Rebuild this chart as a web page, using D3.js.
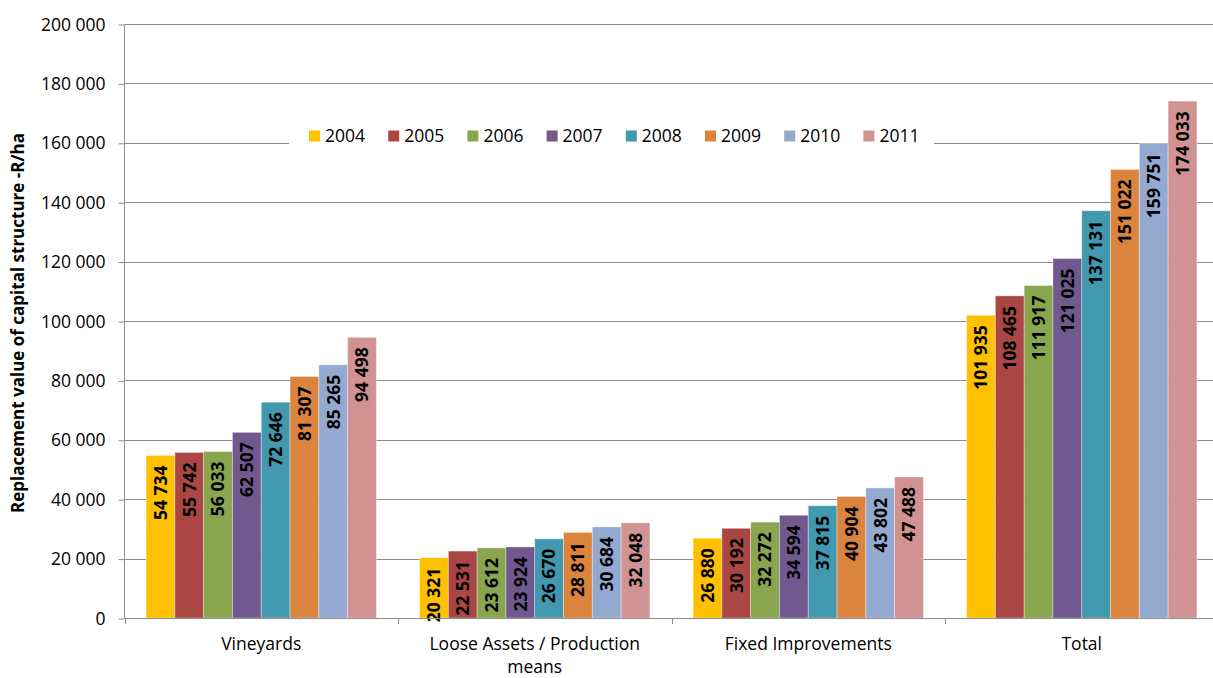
<!DOCTYPE html>
<html>
<head>
<meta charset="utf-8">
<script src="https://cdn.jsdelivr.net/npm/d3@7"></script>
<style>
  body { margin: 0; background: #fff; }
  text { font-family: "Open Sans", Lato, sans-serif; fill: #000; }
</style>
</head>
<body>
<div id="chart"></div>
<script>
// chart data
var categories = ['Vineyards', 'Loose Assets / Production means', 'Fixed Improvements', 'Total']
var years = ['2004', '2005', '2006', '2007', '2008', '2009', '2010', '2011']
var v2004 = [54734, 20321, 26880, 101935]
var v2005 = [55742, 22531, 30192, 108465]
var v2006 = [56033, 23612, 32272, 111917]
var v2007 = [62507, 23924, 34594, 121025]
var v2008 = [72646, 26670, 37815, 137131]
var v2009 = [81307, 28811, 40904, 151022]
var v2010 = [85265, 30684, 43802, 159751]
var v2011 = [94498, 32048, 47488, 174033]
var yTicks = [0, 20000, 40000, 60000, 80000, 100000, 120000, 140000, 160000, 180000, 200000]
var colors = ['#FFC000', '#AA4643', '#89A54E', '#71588F', '#4198AF', '#DB843D', '#93A9CF', '#D19392']

var series = [v2004, v2005, v2006, v2007, v2008, v2009, v2010, v2011]

var W = 1213, H = 678
var pLeft = 124.5, pRight = 1218.5, pTop = 24, pBottom = 618

var fmt = function(n) { return d3.format(',')(n).replace(/,/g, ' ') }

var svg = d3.select('#chart').append('svg')
    .attr('width', W).attr('height', H)

var x0 = d3.scaleBand().domain(categories).range([pLeft, pRight]).paddingInner(0).paddingOuter(0)
var x1 = d3.scaleBand().domain(years).range([0, x0.bandwidth()]).paddingInner(0).paddingOuter(0.75)
var y = d3.scaleLinear().domain([0, 200000]).range([pBottom, pTop])

// gridlines
svg.append('g')
    .selectAll('line')
    .data(yTicks.slice(1))
    .enter().append('line')
    .attr('x1', pLeft).attr('x2', W)
    .attr('y1', d => Math.round(y(d)) + 0.5)
    .attr('y2', d => Math.round(y(d)) + 0.5)
    .attr('stroke', '#8c8c8c')
    .attr('stroke-width', 1)

// y axis
var yAxis = d3.axisLeft(y).tickValues(yTicks).tickSize(6).tickPadding(13).tickFormat(fmt)
var yg = svg.append('g').attr('transform', 'translate(' + pLeft + ',0.5)').call(yAxis)
yg.select('.domain').attr('stroke', '#8c8c8c').attr('d', 'M0,' + pTop + 'V' + pBottom)
yg.selectAll('.tick line').attr('stroke', '#8c8c8c')
yg.selectAll('.tick text').style('font-size', '17.5px').style('font-family', '"Open Sans"').attr('fill', '#000')

// bars
var groups = svg.append('g').selectAll('g')
    .data(categories)
    .enter().append('g')
    .attr('transform', d => 'translate(' + x0(d) + ',0)')

groups.each(function(cat, ci) {
    var g = d3.select(this)
    years.forEach(function(yr, si) {
        var val = series[si][ci]
        g.append('rect')
            .attr('x', x1(yr))
            .attr('y', y(val))
            .attr('width', x1.bandwidth())
            .attr('height', pBottom - y(val))
            .attr('fill', colors[si])
            .attr('stroke', 'rgba(255,255,255,0.35)')
            .attr('stroke-width', 1)
        var cx = x1(yr) + x1.bandwidth() / 2
        var ty = y(val) + 10
        g.append('text')
            .attr('transform', 'translate(' + cx + ',' + ty + ') rotate(-90)')
            .attr('text-anchor', 'end')
            .attr('dy', '0.36em')
            .style('font-size', '17.5px')
            .style('font-weight', 'bold')
            .text(fmt(val))
    })
})

// x axis
svg.append('line')
    .attr('x1', pLeft).attr('x2', W)
    .attr('y1', pBottom + 0.5).attr('y2', pBottom + 0.5)
    .attr('stroke', '#8c8c8c')
svg.append('g').selectAll('line')
    .data(categories)
    .enter().append('line')
    .attr('x1', d => Math.round(x0(d)) + 0.5)
    .attr('x2', d => Math.round(x0(d)) + 0.5)
    .attr('y1', pBottom).attr('y2', pBottom + 6)
    .attr('stroke', '#8c8c8c')

var xl = svg.append('g').selectAll('text')
    .data(categories)
    .enter().append('text')
    .attr('x', d => x0(d) + x0.bandwidth() / 2)
    .attr('y', 650)
    .attr('text-anchor', 'middle')
    .style('font-size', '17.5px')
xl.each(function(d) {
    var t = d3.select(this)
    if (d.indexOf('Production') > -1) {
        t.append('tspan').attr('x', x0(d) + x0.bandwidth() / 2).text('Loose Assets / Production')
        t.append('tspan').attr('x', x0(d) + x0.bandwidth() / 2).attr('dy', 23).text('means')
    } else {
        t.text(d)
    }
})

// y title
svg.append('text')
    .attr('transform', 'translate(24,323) rotate(-90)')
    .attr('text-anchor', 'middle')
    .style('font-size', '17px')
    .style('font-weight', 'bold')
    .text('Replacement value of capital structure -R/ha')

// legend
var leg = svg.append('g')
leg.append('rect')
    .attr('x', 289).attr('y', 122).attr('width', 645).attr('height', 28)
    .attr('fill', '#fff')
var items = leg.selectAll('g')
    .data(years)
    .enter().append('g')
    .attr('transform', (d, i) => 'translate(' + (309 + i * 79.2) + ',136)')
items.append('rect')
    .attr('x', 0).attr('y', -5.5).attr('width', 11).attr('height', 11)
    .attr('fill', (d, i) => colors[i])
items.append('text')
    .attr('x', 16).attr('dy', '0.36em')
    .style('font-size', '17.5px')
    .text(d => d)
</script>
</body>
</html>
